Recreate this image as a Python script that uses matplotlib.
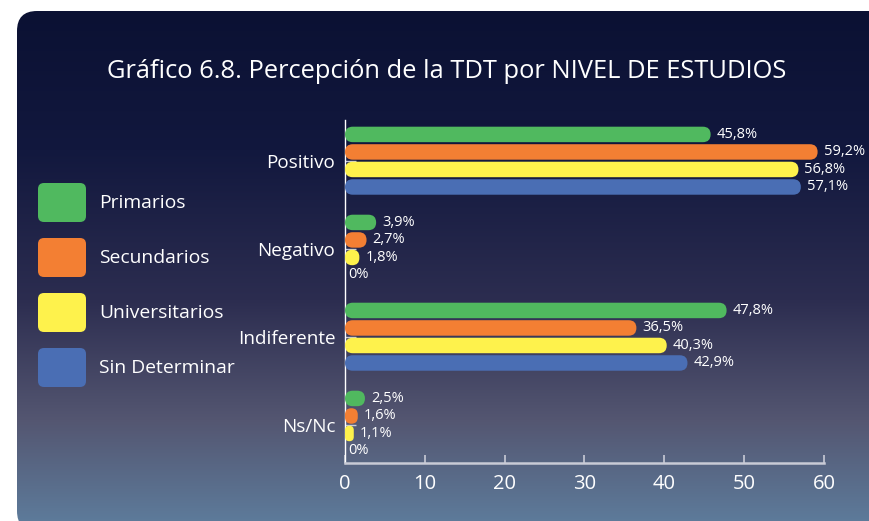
import numpy as np
import matplotlib
matplotlib.use("Agg")
import matplotlib.pyplot as plt
from matplotlib.patches import FancyBboxPatch

plt.rcParams['font.family'] = ['Open Sans', 'DejaVu Sans']

# ---- data ----
TITLE = "Gráfico 6.8. Percepción de la TDT por NIVEL DE ESTUDIOS"
categories = ["Positivo", "Negativo", "Indiferente", "Ns/Nc"]
series = ["Primarios", "Secundarios", "Universitarios", "Sin Determinar"]
primarios = [45.8, 3.9, 47.8, 2.5]
secundarios = [59.2, 2.7, 36.5, 1.6]
universitarios = [56.8, 1.8, 40.3, 1.1]
sin_determinar = [57.1, 0.0, 42.9, 0.0]
x_ticks = [0, 10, 20, 30, 40, 50, 60]

colors = ["#50b95f", "#f37f33", "#fef24c", "#4a6eb4"]
W, H = 870, 521

fig = plt.figure(figsize=(W / 100, H / 100), dpi=100)
fig.patch.set_facecolor("white")

# pixel-space overlay for the panel, title and legend
bg = fig.add_axes([0, 0, 1, 1], zorder=0)
bg.set_xlim(0, W)
bg.set_ylim(H, 0)
bg.axis("off")

panel = FancyBboxPatch((17, 11), 900, 520, boxstyle="round,pad=0,rounding_size=20",
                       facecolor="none", edgecolor="none")
bg.add_patch(panel)

# vertical gradient: navy at the top to slate blue at the bottom
stops_y = [11, 150, 300, 420, 531]
stops_c = np.array([[11, 17, 51], [18, 24, 62], [44, 45, 80], [84, 86, 113], [94, 126, 158]]) / 255
ys = np.arange(11, 532)
grad = np.stack([np.interp(ys, stops_y, stops_c[:, k]) for k in range(3)], axis=-1)[:, None, :]
im = bg.imshow(grad, extent=(17, 917, 531, 11), aspect="auto", interpolation="bilinear")
im.set_clip_path(panel)

bg.text(447, 72, TITLE, color="white", fontsize=18.4, ha="center", va="center")

# legend: rounded swatches with labels
for i, (name, col) in enumerate(zip(series, colors)):
    top = 183 + i * 55
    bg.add_patch(FancyBboxPatch((38, top), 48, 39, boxstyle="round,pad=0,rounding_size=6",
                                facecolor=col, edgecolor="none"))
    bg.text(99, top + 20, name, color="white", fontsize=13.9, va="center", ha="left")

# ---- bar chart ----
left_px, right_px, top_px, bottom_px = 345, 824, 120, 463
ax = fig.add_axes([left_px / W, (H - bottom_px) / H, (right_px - left_px) / W,
                   (bottom_px - top_px) / H], zorder=1)
ax.patch.set_alpha(0)
ax.set_xlim(0, 60)
ax.set_ylim(3.435, -0.4625)

px_x = (right_px - left_px) / 60
px_y = (bottom_px - top_px) / (3.435 + 0.4625)
aspect = px_x / px_y

bar_h = 0.176
step = 0.199
all_vals = [primarios, secundarios, universitarios, sin_determinar]
for k, (vals, col) in enumerate(zip(all_vals, colors)):
    for i, v in enumerate(vals):
        yc = i + (k - 1.5) * step
        if v > 0:
            r = min(bar_h / 2 / aspect, v / 2)
            ax.add_patch(FancyBboxPatch((0, yc - bar_h / 2), v, bar_h,
                                        boxstyle=f"round,pad=0,rounding_size={r}",
                                        mutation_aspect=aspect, facecolor=col,
                                        edgecolor="none", zorder=3))
        off = 3 if v == 0 else 6
        ax.annotate(f"{v:g}".replace(".", ",") + "%", (v, yc), xytext=(off, 0),
                    textcoords="offset pixels", color="white", fontsize=10.5,
                    va="center", ha="left", zorder=4)

for side in ("top", "right"):
    ax.spines[side].set_visible(False)
ax.spines["left"].set_color("white")
ax.spines["left"].set_linewidth(1)
ax.spines["bottom"].set_color("#c9cbd6")
ax.spines["bottom"].set_linewidth(1.8)

ax.set_xticks(x_ticks)
ax.set_xticklabels([str(t) for t in x_ticks])
ax.set_yticks(range(len(categories)))
ax.set_yticklabels(categories)
ax.tick_params(axis="x", direction="in", length=6, width=1.2, color="#c9cbd6",
               labelcolor="white", labelsize=14.5, pad=8)
ax.tick_params(axis="y", direction="in", length=8, width=1, color="#c9cbd6",
               labelcolor="white", labelsize=13.6, pad=7)

fig.savefig("out.png", dpi=100)
